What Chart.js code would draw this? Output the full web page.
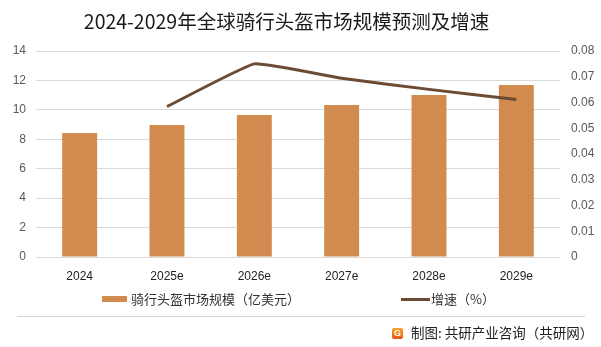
<!DOCTYPE html>
<html>
<head>
<meta charset="utf-8">
<script src="https://cdn.jsdelivr.net/npm/chart.js@4.4.0/dist/chart.umd.min.js"></script>
<style>
  body { margin: 0; background: #fff; font-family: "Noto Sans CJK SC", sans-serif; }
  #wrap { position: relative; width: 601px; height: 347px; overflow: hidden; }
  #chart { position: absolute; left: 0; top: 0; }
  .title { position: absolute; left: 0; width: 573px; top: 8px; text-align: center; font-size: 19.5px; color: #1a1a1a; line-height: 26px; }
  .legend { position: absolute; top: 290px; font-size: 13px; color: #333; line-height: 18px; white-space: nowrap; }
  .sw-bar { display: inline-block; width: 25px; height: 6px; background: #D28B4E; vertical-align: middle; margin-right: 4px; position: relative; top: -1px; }
  .sw-line { display: inline-block; width: 29px; height: 3px; background: #6B4B33; vertical-align: middle; margin-right: 1px; position: relative; top: -1px; }
  .sep { position: absolute; left: 17px; width: 568px; top: 316px; height: 1px; background: #d4d4d4; }
  .footer { position: absolute; left: 392px; top: 323px; font-size: 13.5px; color: #222; line-height: 18px; white-space: nowrap; }
  .logo { display: inline-block; width: 11px; height: 11px; border-radius: 2px; background: linear-gradient(#f5a623, #e8541c); color: #fff; font: bold 9px/11px "Liberation Sans", sans-serif; text-align: center; vertical-align: middle; margin-right: 8px; position: relative; top: -1px; }
</style>
</head>
<body>
<div id="wrap">
  <canvas id="chart" width="601" height="347"></canvas>
  <div class="title">2024-2029年全球骑行头盔市场规模预测及增速</div>
  <div class="legend" style="left:102px"><span class="sw-bar"></span>骑行头盔市场规模（亿美元）</div>
  <div class="legend" style="left:401px"><span class="sw-line"></span>增速（%）</div>
  <div class="sep"></div>
  <div class="footer"><span class="logo">G</span>制图: 共研产业咨询（共研网）</div>
</div>
<script>
// categories and values
const years = ['2024', '2025e', '2026e', '2027e', '2028e', '2029e'];
const marketSize = [8.43, 8.97, 9.65, 10.33, 11.01, 11.69];   // 亿美元
const growthRate = [null, 0.0584, 0.0750, 0.0694, 0.0651, 0.0612];
const leftTicks = [0, 2, 4, 6, 8, 10, 12, 14];
const rightTicks = [0, 0.01, 0.02, 0.03, 0.04, 0.05, 0.06, 0.07, 0.08];

const tickFont = { family: 'Liberation Sans', size: 12 };

new Chart(document.getElementById('chart'), {
  data: {
    labels: years,
    datasets: [
      {
        type: 'line',
        label: '增速（%）',
        data: growthRate,
        yAxisID: 'y1',
        borderColor: '#6B4B33',
        borderWidth: 3,
        pointRadius: 0,
        tension: 0.1,
        order: 0
      },
      {
        type: 'bar',
        label: '骑行头盔市场规模（亿美元）',
        data: marketSize,
        yAxisID: 'y',
        backgroundColor: '#D28B4E',
        categoryPercentage: 1,
        barPercentage: 0.4,
        order: 1
      }
    ]
  },
  options: {
    responsive: false,
    animation: false,
    layout: { padding: { top: 51, bottom: 60, left: 0, right: 0 } },
    plugins: { legend: { display: false }, tooltip: { enabled: false } },
    scales: {
      x: {
        grid: { display: false, drawTicks: false },
        border: { display: false },
        ticks: { color: '#222', font: tickFont, padding: 12 },
        afterFit: (s) => { s.height = 30; }
      },
      y: {
        position: 'left',
        min: 0, max: 14,
        afterBuildTicks: (s) => { s.ticks = leftTicks.map(v => ({ value: v })); },
        grid: { color: '#d9d9d9', drawTicks: false },
        border: { display: false },
        ticks: { color: '#595959', font: tickFont, padding: 10 },
        afterFit: (s) => { s.width = 36; }
      },
      y1: {
        position: 'right',
        min: 0, max: 0.08,
        afterBuildTicks: (s) => { s.ticks = rightTicks.map(v => ({ value: v })); },
        grid: { display: false, drawTicks: false },
        border: { display: false },
        ticks: {
          color: '#595959', font: tickFont, padding: 11,
          callback: (v) => v === 0 ? '0' : v.toFixed(2)
        },
        afterFit: (s) => { s.width = 41; }
      }
    }
  }
});
</script>
</body>
</html>
